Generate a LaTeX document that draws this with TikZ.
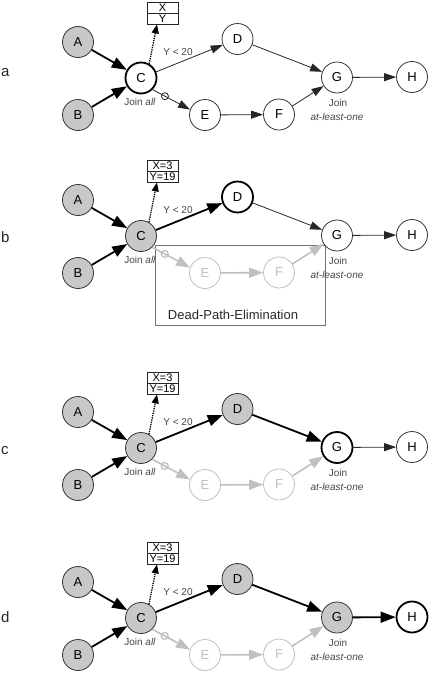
\documentclass[tikz,border=0pt]{standalone}
\usepackage{fontspec}
\setmainfont{Liberation Sans}
\usetikzlibrary{arrows.meta}
\definecolor{ndgrey}{RGB}{200,200,200}
\definecolor{dgrey}{RGB}{192,192,192}
\definecolor{txtgrey}{RGB}{70,70,70}
\definecolor{boxgrey}{RGB}{115,115,115}
\pgfdeclarelayer{background}
\pgfsetlayers{background,main}
\tikzset{
  nd/.style={circle, minimum size=31pt, inner sep=0pt, font=\fontsize{13}{13}\selectfont},
  done/.style={nd, fill=ndgrey, draw=black!80, line width=0.8pt},
  cur/.style={nd, fill=white, draw=black, line width=1.8pt},
  idle/.style={nd, fill=white, draw=black!80, line width=0.8pt},
  dead/.style={nd, fill=white, draw=dgrey, text=dgrey, line width=0.8pt},
  thinE/.style={draw=black!85, line width=0.8pt, -{Triangle[length=12pt,width=8pt]}},
  thickE/.style={draw=black, line width=1.8pt, -{Triangle[length=15pt,width=11pt]}},
  deadE/.style={draw=dgrey, line width=1.6pt, -{Triangle[length=14pt,width=10pt]}},
  dotE/.style={draw=black, line width=1.3pt, densely dotted, -{Triangle[length=9pt,width=7pt]}},
  vbox/.style={draw=black!85, line width=0.8pt, minimum width=31pt, minimum height=11pt, inner sep=0pt, font=\fontsize{11}{11}\selectfont},
  lbl/.style={inner sep=0pt, text=txtgrey, font=\fontsize{10}{10}\selectfont},
  letter/.style={inner sep=0pt, anchor=base west, text=black!85, font=\fontsize{15}{15}\selectfont},
  xmark/.style={circle, draw=black!85, line width=0.8pt, minimum size=7pt, inner sep=0pt},
  xmarkdead/.style={circle, draw=dgrey, line width=1.2pt, minimum size=7pt, inner sep=0pt},
}
\newcommand{\mypanel}[3]{%
  \node[Ast] (#1A) at (78,42) {A};
  \node[Bst] (#1B) at (78,115) {B};
  \node[Cst] (#1C) at (141,78) {C};
  \node[Dst] (#1D) at (237.5,39) {D};
  \node[Est] (#1E) at (205,115) {E};
  \node[Fst] (#1F) at (279,114.5) {F};
  \node[Gst] (#1G) at (337,77.5) {G};
  \node[Hst] (#1H) at (412,77) {H};
  \node[vbox] (#1X) at (162.5,7.5) {#2};
  \node[vbox] (#1Y) at (162.5,18.5) {#3};
  \draw[thickE] (#1A) -- (#1C);
  \draw[thickE] (#1B) -- (#1C);
  \draw[dotE] (#1C.60) -- ([xshift=-5.5pt]#1Y.south);
  \draw[CDe] (#1C) -- (#1D);
  \draw[DGe] (#1D) -- (#1G);
  \draw[GHe] (#1G) -- (#1H);
  \draw[CEe] (#1C.-45) -- node[MKst, pos=0.33] (#1M) {} (#1E.160);
  \draw[EFe] (#1E) -- (#1F);
  \draw[FGe] (#1F) -- (#1G);
  \node[lbl] (#1cond) at (178,52) {Y < 20};
  \node[lbl] (#1ja) at (140,102) {Join \textit{all}};
  \node[lbl] (#1jg) at (338,103) {Join};
  \node[lbl] (#1jo) at (337,117) {\textit{at-least-one}};
}
\begin{document}
\begin{tikzpicture}[x=1pt, y=-1pt]
\useasboundingbox (0,0) rectangle (437,673);
% panel a
\begin{scope}[Ast/.style={done}, Bst/.style={done}, Cst/.style={cur}, Dst/.style={idle},
  Est/.style={idle}, Fst/.style={idle}, Gst/.style={idle}, Hst/.style={idle},
  CDe/.style={thinE}, DGe/.style={thinE}, GHe/.style={thinE}, CEe/.style={thinE},
  EFe/.style={thinE}, FGe/.style={thinE}, MKst/.style={xmark}]
  \mypanel{a}{X}{Y}
  \node[letter] (la) at (1,76) {a};
\end{scope}
% panel b
\begin{scope}[yshift=-158pt, Ast/.style={done}, Bst/.style={done}, Cst/.style={done}, Dst/.style={cur},
  Est/.style={dead}, Fst/.style={dead}, Gst/.style={idle}, Hst/.style={idle},
  CDe/.style={thickE}, DGe/.style={thinE}, GHe/.style={thinE}, CEe/.style={deadE},
  EFe/.style={deadE}, FGe/.style={deadE}, MKst/.style={xmarkdead}]
  \mypanel{b}{X=3}{Y=19}
  \node[letter] (lb) at (1,84) {b};
  \begin{pgfonlayer}{background}
    \node[draw=boxgrey, line width=1pt, minimum width=170pt, minimum height=80pt, inner sep=0pt] (dpe) at (240,127) {};
  \end{pgfonlayer}
  \node[inner sep=0pt, text=black!85, font=\fontsize{13}{13}\selectfont] (dpet) at (233,157) {Dead-Path-Elimination};
\end{scope}
% panel c
\begin{scope}[yshift=-370pt, Ast/.style={done}, Bst/.style={done}, Cst/.style={done}, Dst/.style={done},
  Est/.style={dead}, Fst/.style={dead}, Gst/.style={cur}, Hst/.style={idle},
  CDe/.style={thickE}, DGe/.style={thickE}, GHe/.style={thinE}, CEe/.style={deadE},
  EFe/.style={deadE}, FGe/.style={deadE}, MKst/.style={xmarkdead}]
  \mypanel{c}{X=3}{Y=19}
  \node[letter] (lc) at (1,84) {c};
\end{scope}
% panel d
\begin{scope}[yshift=-540pt, Ast/.style={done}, Bst/.style={done}, Cst/.style={done}, Dst/.style={done},
  Est/.style={dead}, Fst/.style={dead}, Gst/.style={done}, Hst/.style={cur},
  CDe/.style={thickE}, DGe/.style={thickE}, GHe/.style={thickE}, CEe/.style={deadE},
  EFe/.style={deadE}, FGe/.style={deadE}, MKst/.style={xmarkdead}]
  \mypanel{d}{X=3}{Y=19}
  \node[letter] (ld) at (1,82) {d};
\end{scope}
\end{tikzpicture}
\end{document}
